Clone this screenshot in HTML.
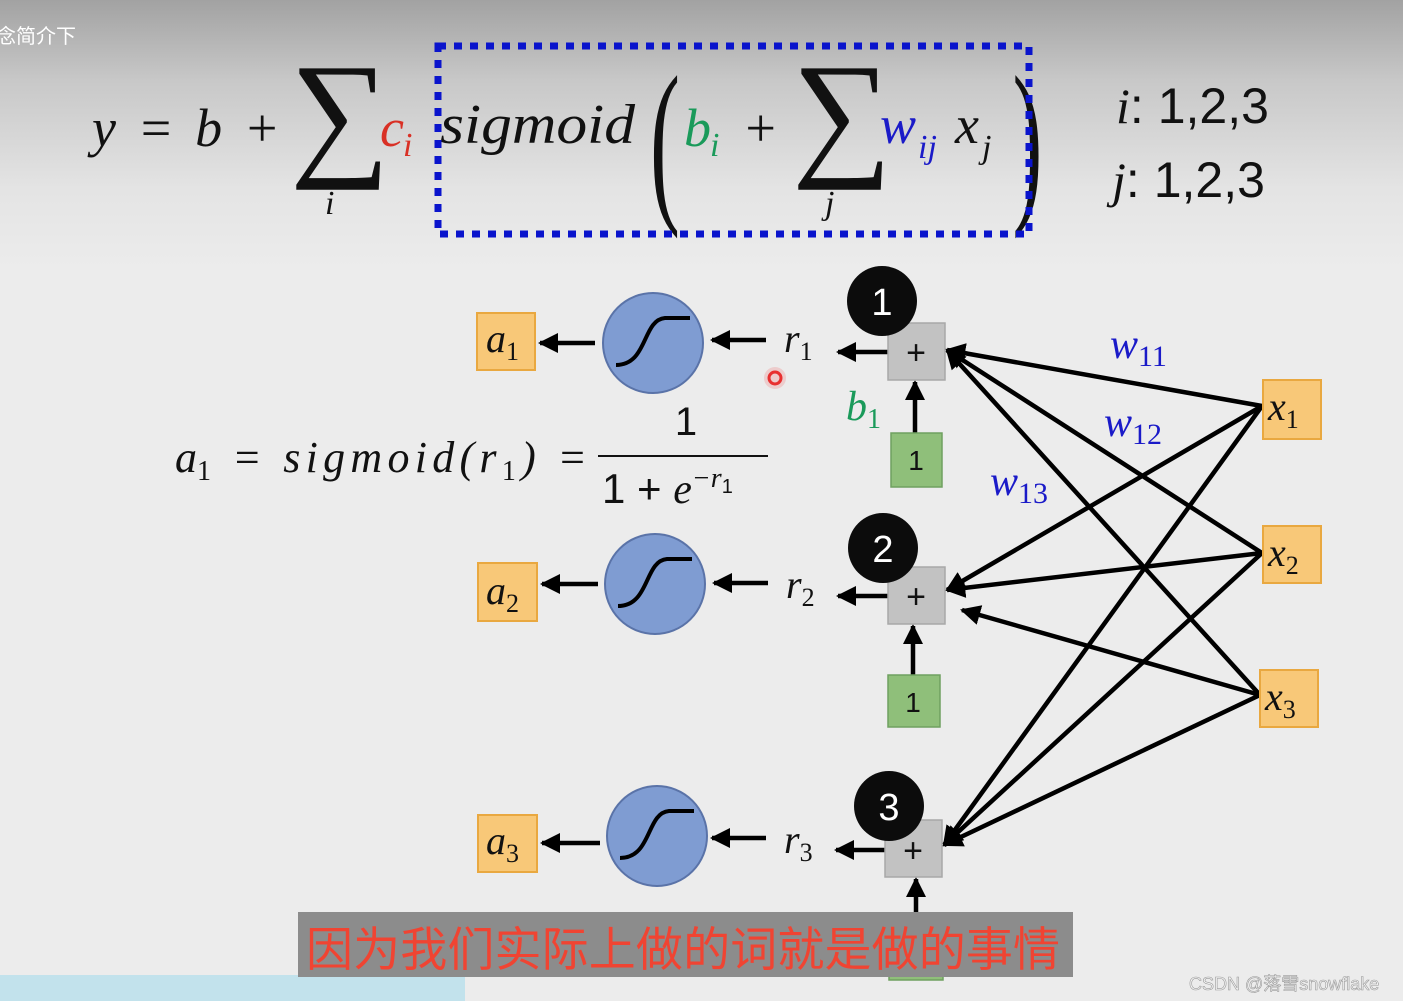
<!DOCTYPE html>
<html><head><meta charset="utf-8"><style>
html,body{margin:0;padding:0;width:1403px;height:1001px;overflow:hidden;background:#ececec}
svg{display:block}
.m{font-family:"Liberation Serif","DejaVu Serif",serif;font-style:italic}
.s{font-family:"Liberation Sans","DejaVu Sans",sans-serif}
</style></head><body>
<svg width="1403" height="1001" viewBox="0 0 1403 1001" xmlns="http://www.w3.org/2000/svg">
<defs>
<linearGradient id="bg" x1="0" y1="0" x2="0" y2="1">
<stop offset="0" stop-color="#a2a2a2"/><stop offset="0.3" stop-color="#c8c8c8"/><stop offset="0.7" stop-color="#e4e4e4"/><stop offset="1" stop-color="#ececec"/>
</linearGradient>
<marker id="ah" viewBox="0 0 10 10" refX="9" refY="5" markerWidth="4.5" markerHeight="4.5" orient="auto-start-reverse" markerUnits="strokeWidth">
<path d="M0,0 L10,5 L0,10 z" fill="#000"/></marker>
</defs>
<rect width="1403" height="1001" fill="#ececec"/>
<rect width="1403" height="270" fill="url(#bg)"/>
<text x="-4" y="43" font-size="20" fill="#fff" font-family="'Noto Sans CJK SC',sans-serif">念简介下</text>

<!-- formula -->
<text x="92" y="146" class="m" font-size="54" fill="#111" textLength="188" lengthAdjust="spacing">y = b +</text>
<text x="290" y="160" font-size="140" fill="#111" font-family="'Liberation Serif',serif">∑</text>
<text x="325" y="214" class="m" font-size="34" fill="#111">i</text>
<text x="380" y="146" class="m" font-size="54" fill="#d93025">c</text>
<text x="403" y="156" class="m" font-size="34" fill="#d93025">i</text>
<text x="440" y="143" class="m" font-size="56" fill="#111" textLength="195" lengthAdjust="spacingAndGlyphs">sigmoid</text>
<text x="645" y="200" font-size="180" fill="#111" font-family="'Liberation Serif',serif" transform="scale(0.5,1)" transform-origin="655 140">(</text>
<text x="684" y="146" class="m" font-size="54" fill="#1a9a5a">b</text>
<text x="710" y="156" class="m" font-size="34" fill="#1a9a5a">i</text>
<text x="742" y="146" class="m" font-size="54" fill="#111">+</text>
<text x="792" y="160" font-size="140" fill="#111" font-family="'Liberation Serif',serif">∑</text>
<text x="825" y="214" class="m" font-size="34" fill="#111">j</text>
<text x="880" y="143" class="m" font-size="54" fill="#1a1ac8">w</text>
<text x="918" y="158" class="m" font-size="34" fill="#1a1ac8">ij</text>
<text x="955" y="143" class="m" font-size="54" fill="#111">x</text>
<text x="982" y="158" class="m" font-size="34" fill="#111">j</text>
<text x="1005" y="200" font-size="180" fill="#111" font-family="'Liberation Serif',serif" transform="scale(0.5,1)" transform-origin="1020 140">)</text>
<rect x="438" y="46" width="591" height="188" fill="none" stroke="#0a14cc" stroke-width="7" stroke-dasharray="8 8"/>
<text x="1116" y="123" font-size="50" fill="#111" font-family="'Liberation Sans',sans-serif"><tspan class="m">i</tspan>: 1,2,3</text>
<text x="1112" y="197" font-size="50" fill="#111" font-family="'Liberation Sans',sans-serif"><tspan class="m">j</tspan>: 1,2,3</text>

<!-- connections from x -->
<g stroke="#000" stroke-width="4.5" marker-end="url(#ah)">
<line x1="1262" y1="406" x2="947" y2="350"/>
<line x1="1262" y1="406" x2="947" y2="590"/>
<line x1="1262" y1="406" x2="944" y2="845"/>
<line x1="1262" y1="553" x2="947" y2="350"/>
<line x1="1262" y1="553" x2="947" y2="590"/>
<line x1="1262" y1="553" x2="944" y2="845"/>
<line x1="1260" y1="695" x2="947" y2="350"/>
<line x1="1260" y1="695" x2="962" y2="610"/>
<line x1="1260" y1="695" x2="944" y2="845"/>
<line x1="595" y1="343" x2="540" y2="343"/>
<line x1="598" y1="584" x2="542" y2="584"/>
<line x1="600" y1="843" x2="542" y2="843"/>
<line x1="766" y1="340" x2="712" y2="340"/>
<line x1="768" y1="583" x2="714" y2="583"/>
<line x1="766" y1="838" x2="712" y2="838"/>
<line x1="888" y1="352" x2="838" y2="352"/>
<line x1="888" y1="596" x2="838" y2="596"/>
<line x1="885" y1="850" x2="836" y2="850"/>
<line x1="915" y1="433" x2="915" y2="382"/>
<line x1="913" y1="675" x2="913" y2="626"/>
<line x1="916" y1="970" x2="916" y2="879"/>
</g>

<g fill="#f8c878" stroke="#e9a840" stroke-width="2">
<rect x="477" y="313" width="58" height="57"/><rect x="478" y="563" width="59" height="58"/><rect x="478" y="815" width="59" height="57"/>
<rect x="1263" y="380" width="58" height="59"/><rect x="1263" y="526" width="58" height="57"/><rect x="1260" y="670" width="58" height="57"/>
</g>
<g class="m" font-size="40" fill="#111">
<text x="486" y="352">a<tspan font-size="26" dy="8" font-style="normal">1</tspan></text>
<text x="486" y="604">a<tspan font-size="26" dy="8" font-style="normal">2</tspan></text>
<text x="486" y="854">a<tspan font-size="26" dy="8" font-style="normal">3</tspan></text>
<text x="1268" y="420">x<tspan font-size="26" dy="8" font-style="normal">1</tspan></text>
<text x="1268" y="566">x<tspan font-size="26" dy="8" font-style="normal">2</tspan></text>
<text x="1265" y="710">x<tspan font-size="26" dy="8" font-style="normal">3</tspan></text>
<text x="784" y="352">r<tspan font-size="26" dy="8" font-style="normal">1</tspan></text>
<text x="786" y="598">r<tspan font-size="26" dy="8" font-style="normal">2</tspan></text>
<text x="784" y="853">r<tspan font-size="26" dy="8" font-style="normal">3</tspan></text>
</g>
<text x="846" y="420" class="m" font-size="42" fill="#1a9a5a">b<tspan font-size="28" dy="8" font-style="normal">1</tspan></text>
<g class="m" font-size="42" fill="#1a1ac8">
<text x="1110" y="358">w<tspan font-size="30" dy="8" font-style="normal">11</tspan></text>
<text x="1104" y="436">w<tspan font-size="30" dy="8" font-style="normal">12</tspan></text>
<text x="990" y="495">w<tspan font-size="30" dy="8" font-style="normal">13</tspan></text>
</g>

<g fill="#7f9cd2" stroke="#5a73a8" stroke-width="2">
<circle cx="653" cy="343" r="50"/><circle cx="655" cy="584" r="50"/><circle cx="657" cy="836" r="50"/>
</g>
<g fill="none" stroke="#000" stroke-width="4">
<path d="M616,365 C648,365 642,320 665,318 L690,318"/>
<path d="M616,365 C648,365 642,320 665,318 L690,318" transform="translate(2,241)"/>
<path d="M616,365 C648,365 642,320 665,318 L690,318" transform="translate(4,493)"/>
</g>

<g fill="#c2c2c2" stroke="#a8a8a8" stroke-width="1.5">
<rect x="888" y="323" width="57" height="57"/><rect x="888" y="567" width="57" height="57"/><rect x="885" y="820" width="57" height="57"/>
</g>
<g class="s" font-size="34" fill="#111" text-anchor="middle">
<text x="916" y="364">+</text><text x="916" y="608">+</text><text x="913" y="862">+</text>
</g>
<g fill="#8fbf7a" stroke="#6fa060" stroke-width="1.5">
<rect x="891" y="433" width="51" height="54"/><rect x="888" y="675" width="52" height="52"/><rect x="889" y="928" width="54" height="52"/>
</g>
<g class="s" font-size="28" fill="#111" text-anchor="middle">
<text x="916" y="470">1</text><text x="913" y="712">1</text>
</g>
<g fill="#0c0c0c"><circle cx="882" cy="301" r="35"/><circle cx="883" cy="548" r="35"/><circle cx="889" cy="806" r="35"/></g>
<g class="s" font-size="38" fill="#fff" text-anchor="middle">
<text x="882" y="315">1</text><text x="883" y="562">2</text><text x="889" y="820">3</text>
</g>

<text x="175" y="472" class="m" font-size="44" fill="#111">a<tspan font-size="28" dy="8" font-style="normal">1</tspan></text>
<text x="232" y="472" class="m" font-size="44" fill="#111" textLength="355" lengthAdjust="spacing">= sigmoid(r<tspan font-size="28" dy="8" font-style="normal">1</tspan><tspan dy="-8">) =</tspan></text>
<text x="686" y="435" class="s" font-size="40" fill="#111" text-anchor="middle">1</text>
<line x1="598" y1="456" x2="768" y2="456" stroke="#111" stroke-width="2"/>
<text x="602" y="503" font-size="42" fill="#111" font-family="'Liberation Sans',sans-serif">1 + <tspan class="m">e</tspan><tspan class="m" font-size="28" dy="-16">−r</tspan><tspan font-size="20" dy="6">1</tspan></text>
<circle cx="775" cy="378" r="11" fill="#f08080" opacity="0.3"/>
<circle cx="775" cy="378" r="6" fill="none" stroke="#e83030" stroke-width="3"/>

<rect x="0" y="975" width="465" height="26" fill="#c2e2ec"/>
<rect x="298" y="912" width="775" height="65" fill="#8c8c8c"/>
<text x="306" y="966" font-size="47" fill="#f04432" font-family="'Noto Sans CJK SC','WenQuanYi Zen Hei',sans-serif" textLength="754">因为我们实际上做的词就是做的事情</text>
<text x="1189" y="990" font-size="18" fill="#f4f4f4" stroke="#999" stroke-width="0.6" font-family="'Liberation Sans','Noto Sans CJK SC',sans-serif">CSDN @落雪snowflake</text>
</svg>
</body></html>
